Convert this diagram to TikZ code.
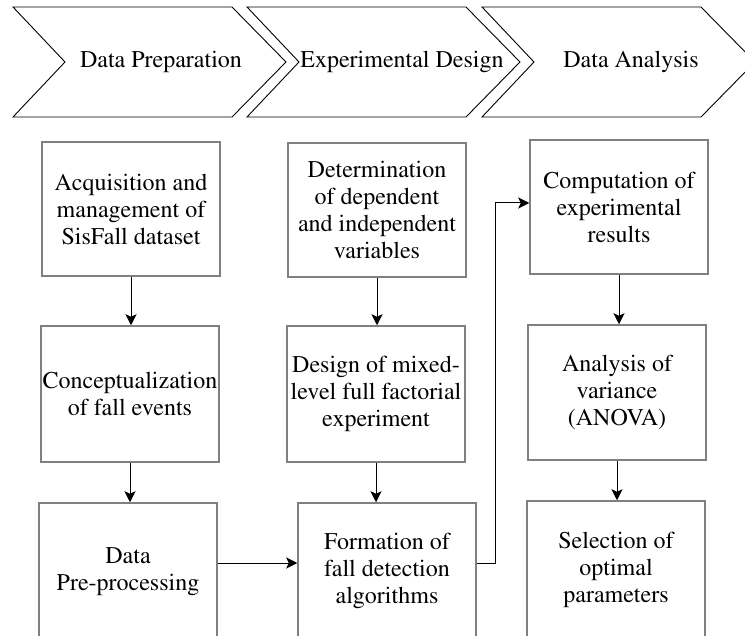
\documentclass[tikz,border=0pt]{standalone}
\usepackage[T1]{fontenc}
\usepackage{mathptmx}
\usetikzlibrary{arrows.meta}
\newcommand{\upbox}[1]{\raisebox{4pt}{\begin{tabular}{@{}c@{}}#1\end{tabular}}}
\begin{document}
\begin{tikzpicture}[x=1pt,y=-1pt,
  font=\rmfamily\fontsize{24}{27}\selectfont,
  chev/.style={draw=black,line width=0.9pt,line join=miter},
  box/.style={draw=black!50,line width=1.5pt,rectangle,inner sep=0pt,
    minimum width=178pt,align=center},
  conn/.style={draw=black,line width=1pt,-{Stealth[length=11pt,width=11pt,inset=2.5pt]}}]
\useasboundingbox (0,0) rectangle (745,636);
% chevrons
\draw[chev] (13,7) -- (232,7) -- (286,62) -- (232,117) -- (13,117) -- (65,62) -- cycle;
\draw[chev] (247,7) -- (466,7) -- (520,62) -- (466,117) -- (247,117) -- (299,62) -- cycle;
\draw[chev] (482,7) -- (701,7) -- (755,62) -- (701,117) -- (482,117) -- (534,62) -- cycle;
\node[inner sep=0pt] (h1) at (161,62) {Data Preparation};
\node[inner sep=0pt] (h2) at (402,62) {Experimental Design};
\node[inner sep=0pt] (h3) at (631,62) {Data Analysis};
% column 1
\node[box,minimum height=134pt] (a1) at (131,209) {Acquisition and\\management of\\SisFall dataset};
\node[box,minimum height=136pt] (a2) at (130,394) {Conceptualization\\of fall events};
\node[box,minimum height=137pt] (a3) at (128,571.5) {\upbox{Data\\Pre-processing}};
% column 2
\node[box,minimum height=134pt] (b1) at (377,210) {Determination\\of dependent\\and independent\\variables};
\node[box,minimum height=136pt] (b2) at (376,394) {Design of mixed-\\level full factorial\\experiment};
\node[box,minimum height=137pt] (b3) at (387,571.5) {\upbox{Formation of\\fall detection\\algorithms}};
% column 3
\node[box,minimum height=134pt] (c1) at (619,207) {Computation of\\experimental\\results};
\node[box,minimum height=135pt] (c2) at (617,392.5) {Analysis of\\variance\\(ANOVA)};
\node[box,minimum height=139pt] (c3) at (616,570.5) {\upbox{Selection of\\optimal\\parameters}};
% connectors
\draw[conn] (a1.south) -- (a1.south |- a2.north);
\draw[conn] (a2.south) -- (a2.south |- a3.north);
\draw[conn] (b1.south) -- (b1.south |- b2.north);
\draw[conn] (b2.south) -- (b2.south |- b3.north);
\draw[conn] (c1.south) -- (c1.south |- c2.north);
\draw[conn] (c2.south) -- (c2.south |- c3.north);
\coordinate (m) at (a3.east |- 0,563);
\draw[conn] (m) -- (m -| b3.west);
\coordinate (e1) at (b3.east |- 0,563);
\coordinate (e2) at (495,563);
\coordinate (e3) at (495,203);
\draw[conn] (e1) -- (e2) -- (e3) -- (e3 -| c1.west);
\end{tikzpicture}
\end{document}
